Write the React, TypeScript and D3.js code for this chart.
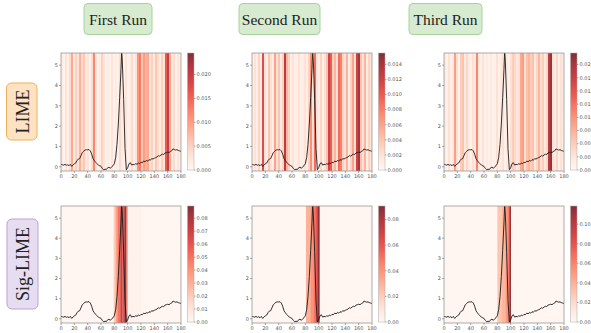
import React from "react";
import * as d3 from "d3";

// ---------- DATA ----------
const runTitles = ["First Run", "Second Run", "Third Run"];
const methodLabels = ["LIME", "Sig-LIME"];

// ECG sample positions and amplitudes
const ecgX = [0,2,4,6,8,10,12,14,16,18,20,22,24,26,28,30,32,34,36,38,40,42,44,46,48,50,52,54,56,58,60,62,64,66,68,70,72,74,76,78,80,82,84,86,88,90,91,92,94,96,98,100,102,104,106,108,110,112,114,116,118,120,122,124,126,128,130,132,134,136,138,140,142,144,146,148,150,152,154,156,158,160,162,164,166,168,170,172,174,176,178,180];
const ecgY = [0.12,0.10,0.08,0.12,0.07,0.10,0.05,0.12,0.02,0.08,0.15,0.18,0.30,0.38,0.40,0.55,0.70,0.76,0.82,0.84,0.83,0.85,0.78,0.62,0.40,0.30,0.22,0.15,0.08,0.05,0.02,-0.08,-0.15,-0.12,-0.14,-0.05,-0.02,-0.08,0.00,0.05,0.15,0.45,1.10,2.10,3.40,4.80,5.70,5.20,3.30,0.90,-0.15,-0.05,0.15,0.20,0.08,0.12,0.10,0.15,0.12,0.18,0.15,0.22,0.20,0.28,0.25,0.30,0.28,0.35,0.32,0.40,0.38,0.42,0.45,0.48,0.55,0.52,0.58,0.62,0.60,0.68,0.70,0.72,0.70,0.75,0.78,0.88,0.85,0.82,0.84,0.80,0.78,0.76];

// LIME importances, 60 segments of width 3 over 0..180 (units of 0.001)
const limeRun1 = [2,1,3,1,4,9,2,5,3,8,4,6,2,3,1,4,12,3,1,2,5,3,1,2,1,3,1,2,1,4,2,1,3,1,2,4,1,3,11,13,6,10,8,9,3,5,2,6,4,2,5,3,16,20,9,2,4,1,3,2];
const limeRun2 = [1,2,1,3,1,11,2,1,4,2,1,6,2,4,1,3,13,5,3,1,2,1,1,2,1,1,2,1,3,7,2,9,2,1,3,1,2,4,12,10,3,5,2,9,8,3,2,5,1,3,6,2,12,14,4,2,5,1,3,2];
const limeRun3 = [2,1,3,1,2,9,3,1,5,6,2,4,2,1,3,2,11,2,1,3,1,2,1,2,1,1,3,1,2,3,1,2,1,3,5,4,2,3,8,9,3,6,7,5,6,2,4,7,3,5,2,4,19,21,3,2,4,1,3,2];

// Sig-LIME importance bands
const sigStarts1 = [0, 79, 82, 85, 89, 92, 95, 98, 100, 120];
const sigEnds1 = [79, 82, 85, 89, 92, 95, 98, 100, 120, 180];
const sigValues1 = [0.0008, 0.02, 0.035, 0.05, 0.07, 0.06, 0.085, 0.045, 0.003, 0.0008];
const sigStarts2 = [0, 81, 88, 92, 95.5, 98.5, 101.5];
const sigEnds2 = [81, 88, 92, 95.5, 98.5, 101.5, 180];
const sigValues2 = [0.0008, 0.03, 0.04, 0.05, 0.06, 0.088, 0.0008];
const sigStarts3 = [0, 80, 87, 92, 95, 98, 100.5];
const sigEnds3 = [80, 87, 92, 95, 98, 100.5, 180];
const sigValues3 = [0.0008, 0.03, 0.037, 0.05, 0.062, 0.112, 0.0008];

// colorbar ranges and ticks
const cbMax = [0.0245, 0.0155, 0.0222, 0.0894, 0.0906, 0.1186];
const cbTickValues = [
  [0, 0.005, 0.01, 0.015, 0.02],
  [0, 0.002, 0.004, 0.006, 0.008, 0.01, 0.012, 0.014],
  [0, 0.0025, 0.005, 0.0075, 0.01, 0.0125, 0.015, 0.0175, 0.02],
  [0, 0.01, 0.02, 0.03, 0.04, 0.05, 0.06, 0.07, 0.08],
  [0, 0.02, 0.04, 0.06, 0.08],
  [0, 0.02, 0.04, 0.06, 0.08, 0.1],
];
const cbTickLabels = [
  ["0.000", "0.005", "0.010", "0.015", "0.020"],
  ["0.000", "0.002", "0.004", "0.006", "0.008", "0.010", "0.012", "0.014"],
  ["0.000", "0.002", "0.005", "0.007", "0.010", "0.012", "0.015", "0.017", "0.020"],
  ["0.00", "0.01", "0.02", "0.03", "0.04", "0.05", "0.06", "0.07", "0.08"],
  ["0.00", "0.02", "0.04", "0.06", "0.08"],
  ["0.00", "0.02", "0.04", "0.06", "0.08", "0.10"],
];
const xTicks = [0, 20, 40, 60, 80, 100, 120, 140, 160, 180];
const yTicks = [0, 1, 2, 3, 4, 5];

// ---------- LAYOUT ----------
const W = 591, H = 333;
const colLeft = [61, 252, 444];
const plotW = 120;
const rowTop = [53, 206];
const plotH = [118, 117];
const headerBoxes = [
  { x: 84, w: 68 },
  { x: 239, w: 81 },
  { x: 409, w: 73 },
];
const serif = "'Liberation Serif', 'DejaVu Serif', 'Times New Roman', serif";

function blend(v: number, max: number) {
  const c = d3.interpolateReds(Math.max(0, Math.min(1, v / max)));
  return d3.interpolateRgb("#ffffff", c)(0.82);
}

type Band = { s: number; e: number; v: number };

function Panel({ idx, left, top, h, bands, max }: { idx: number; left: number; top: number; h: number; bands: Band[]; max: number }) {
  const x = d3.scaleLinear().domain([0, 180]).range([left, left + plotW]);
  const y = d3.scaleLinear().domain([-0.21, 5.6]).range([top + h, top]);
  const line = d3.line<number>().x((_, i) => x(ecgX[i])).y((d) => y(d));
  const clipId = `clip${idx}`;
  const gradId = `grad${idx}`;
  const cbX = left + 126.5;
  const cbW = 6.5;
  const cbY = d3.scaleLinear().domain([0, max]).range([top + h - 1, top]);
  const stops = d3.range(0, 1.0001, 0.05);
  const tickColor = "#555";
  return (
    <g>
      <defs>
        <clipPath id={clipId}>
          <rect x={left} y={top} width={plotW} height={h} />
        </clipPath>
        <linearGradient id={gradId} x1="0" y1="1" x2="0" y2="0">
          {stops.map((t, i) => (
            <stop key={i} offset={t} stopColor={blend(t * max, max)} />
          ))}
        </linearGradient>
      </defs>
      <g clipPath={`url(#${clipId})`}>
        {bands.map((b, i) => (
          <rect key={i} x={x(b.s)} y={top} width={x(b.e) - x(b.s) + 0.3} height={h} fill={blend(b.v, max)} />
        ))}
        <path d={line(ecgY) || ""} fill="none" stroke="#1a1a1a" strokeWidth={0.9} strokeLinejoin="round" />
      </g>
      <rect x={left} y={top} width={plotW} height={h} fill="none" stroke="#999" strokeWidth={0.8} />
      {xTicks.map((t) => (
        <g key={t}>
          <line x1={x(t)} x2={x(t)} y1={top + h} y2={top + h + 2} stroke={tickColor} strokeWidth={0.5} />
          <text x={x(t)} y={top + h + 7} fontSize={5} textAnchor="middle" fill={tickColor} fontFamily="DejaVu Sans">{t}</text>
        </g>
      ))}
      {yTicks.map((t) => (
        <g key={t}>
          <line x1={left - 2} x2={left} y1={y(t)} y2={y(t)} stroke={tickColor} strokeWidth={0.5} />
          <text x={left - 3} y={y(t) + 1.8} fontSize={5} textAnchor="end" fill={tickColor} fontFamily="DejaVu Sans">{t}</text>
        </g>
      ))}
      <rect x={cbX} y={top} width={cbW} height={h - 1} fill={`url(#${gradId})`} stroke="#aaa" strokeWidth={0.5} />
      {cbTickValues[idx].map((t, i) => (
        <g key={i}>
          <line x1={cbX + cbW} x2={cbX + cbW + 1.5} y1={cbY(t)} y2={cbY(t)} stroke={tickColor} strokeWidth={0.5} />
          <text x={cbX + cbW + 2.5} y={cbY(t) + 1.8} fontSize={5} fill={tickColor} fontFamily="DejaVu Sans">{cbTickLabels[idx][i]}</text>
        </g>
      ))}
    </g>
  );
}

function limeBands(vals: number[]): Band[] {
  return vals.map((v, i) => ({ s: i * 3, e: i * 3 + 3, v: v * 0.001 }));
}
function sigBands(s: number[], e: number[], v: number[]): Band[] {
  return s.map((st, i) => ({ s: st, e: e[i], v: v[i] }));
}

export default function App() {
  const allBands = [
    limeBands(limeRun1),
    limeBands(limeRun2),
    limeBands(limeRun3),
    sigBands(sigStarts1, sigEnds1, sigValues1),
    sigBands(sigStarts2, sigEnds2, sigValues2),
    sigBands(sigStarts3, sigEnds3, sigValues3),
  ];
  return (
    <svg width={W} height={H} style={{ position: "absolute", left: 0, top: 0, background: "#fff" }}>
      <rect x={0} y={0} width={W} height={H} fill="#fff" />
      {runTitles.map((t, i) => (
        <g key={t}>
          <rect x={headerBoxes[i].x} y={3.5} width={headerBoxes[i].w} height={31} rx={4} fill="#d6ebd0" stroke="#a9d29b" strokeWidth={1} />
          <text x={headerBoxes[i].x + headerBoxes[i].w / 2} y={24.5} fontSize={15.5} textAnchor="middle" fontFamily={serif} fill="#222">{t}</text>
        </g>
      ))}
      <g>
        <rect x={6.5} y={83} width={30.5} height={57} rx={5} fill="#fde3c2" stroke="#f0b257" strokeWidth={1} />
        <text transform={`translate(28.5,111.5) rotate(-90)`} fontSize={18} textAnchor="middle" fontFamily={serif} fill="#222">{methodLabels[0]}</text>
      </g>
      <g>
        <rect x={7} y={219} width={31} height={90} rx={5} fill="#e7ddf0" stroke="#bba3d3" strokeWidth={1} />
        <text transform={`translate(29,264) rotate(-90)`} fontSize={18} textAnchor="middle" fontFamily={serif} fill="#222">{methodLabels[1]}</text>
      </g>
      {allBands.map((b, k) => {
        const r = Math.floor(k / 3);
        const c = k % 3;
        return <Panel key={k} idx={k} left={colLeft[c]} top={rowTop[r]} h={plotH[r]} bands={b} max={cbMax[k]} />;
      })}
    </svg>
  );
}
